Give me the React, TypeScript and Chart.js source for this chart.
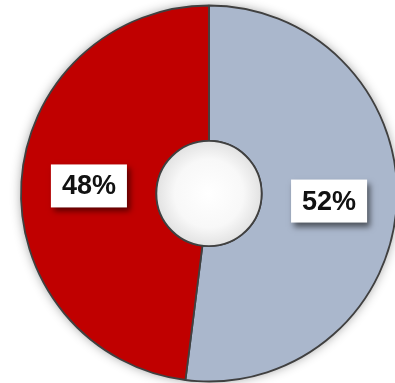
import React, { useEffect, useRef } from "react";
import { Chart, registerables } from "chart.js";

Chart.register(...registerables);

const categories = ["Share 1", "Share 2"];
const values = [52, 48];
const sliceColors = ["#AAB7CC", "#C00000"];
const valueLabels = ["52%", "48%"];

const shadowPlugin = {
  id: "ringShadow",
  beforeDatasetsDraw(chart: any) {
    const meta = chart.getDatasetMeta(0);
    const arc = meta.data[0];
    if (!arc) return;
    const { x, y, outerRadius } = arc.getProps(["x", "y", "outerRadius"], true);
    const ctx = chart.ctx;
    ctx.save();
    ctx.shadowColor = "rgba(0,0,0,0.45)";
    ctx.shadowBlur = 12;
    ctx.shadowOffsetX = 0;
    ctx.shadowOffsetY = 0;
    ctx.fillStyle = "#888";
    ctx.beginPath();
    ctx.arc(x, y, outerRadius - 1, 0, Math.PI * 2);
    ctx.fill();
    ctx.restore();
  },
};

const holePlugin = {
  id: "hole",
  afterDatasetsDraw(chart: any) {
    const meta = chart.getDatasetMeta(0);
    const arc = meta.data[0];
    if (!arc) return;
    const { x, y, innerRadius } = arc.getProps(["x", "y", "innerRadius"], true);
    const ctx = chart.ctx;
    ctx.save();
    const g = ctx.createRadialGradient(x, y, 0, x, y, innerRadius);
    g.addColorStop(0, "#ffffff");
    g.addColorStop(0.65, "#f8f8f8");
    g.addColorStop(1, "#e2e2e2");
    ctx.fillStyle = g;
    ctx.beginPath();
    ctx.arc(x, y, innerRadius, 0, Math.PI * 2);
    ctx.fill();
    ctx.lineWidth = 1.8;
    ctx.strokeStyle = "#404040";
    ctx.stroke();
    ctx.restore();

    meta.data.forEach((el: any, i: number) => {
      const p = el.getCenterPoint();
      const text = valueLabels[i];
      ctx.save();
      ctx.font = "bold 27px 'Liberation Sans', Arial, sans-serif";
      const tw = ctx.measureText(text).width;
      const w = tw + 22;
      const h = 43;
      ctx.shadowColor = "rgba(0,0,0,0.55)";
      ctx.shadowBlur = 6;
      ctx.shadowOffsetX = 3;
      ctx.shadowOffsetY = 4;
      ctx.fillStyle = "#ffffff";
      ctx.fillRect(p.x - w / 2, p.y - h / 2, w, h);
      ctx.shadowColor = "transparent";
      ctx.shadowBlur = 0;
      ctx.shadowOffsetX = 0;
      ctx.shadowOffsetY = 0;
      ctx.fillStyle = "#111111";
      ctx.textAlign = "center";
      ctx.textBaseline = "middle";
      ctx.fillText(text, p.x, p.y + 1);
      ctx.restore();
    });
  },
};

export default function App() {
  const ref = useRef<HTMLCanvasElement | null>(null);
  useEffect(() => {
    if (!ref.current) return;
    const chart = new Chart(ref.current, {
      type: "doughnut",
      data: {
        labels: categories,
        datasets: [
          {
            data: values,
            backgroundColor: sliceColors,
            borderColor: "#404040",
            borderWidth: 1.8,
          },
        ],
      },
      options: {
        responsive: false,
        animation: false,
        radius: 188,
        cutout: "28%",
        layout: { padding: { left: 23, right: 0, top: 4, bottom: 0 } },
        plugins: {
          legend: { display: false },
          tooltip: { enabled: false },
        },
      } as any,
      plugins: [shadowPlugin, holePlugin],
    });
    return () => chart.destroy();
  }, []);
  return (
    <div style={{ position: "fixed", left: 0, top: 0, width: 395, height: 383, background: "#fff", overflow: "hidden" }}>
      <canvas ref={ref} width={395} height={383} style={{ display: "block" }} />
    </div>
  );
}
